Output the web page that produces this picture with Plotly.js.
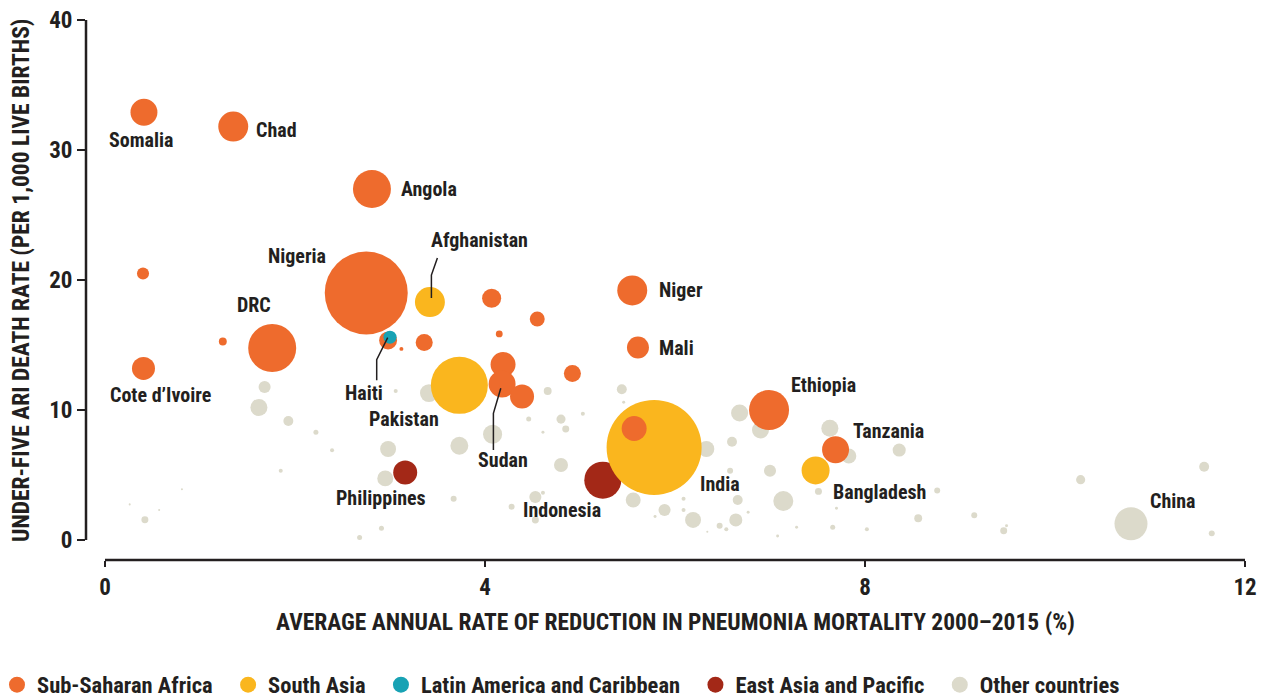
<!DOCTYPE html>
<html><head><meta charset="utf-8">
<script src="https://cdn.plot.ly/plotly-3.0.1.min.js"></script>
<style>html,body{margin:0;padding:0;background:#fff}#chart{width:1267px;height:698px}</style>
</head><body><div id="chart"></div>
<script>
// ---------- DATA ----------
// x: average annual rate of reduction in pneumonia mortality 2000-2015 (%)
// y: under-five ARI death rate (per 1,000 live births)
// deaths: under-five pneumonia deaths (thousands) -> bubble area

const ssaNames  = ["Somalia","Chad","Angola","Nigeria","","Cote d’Ivoire","","DRC","","","","","","","Niger","Mali","","Sudan","","","","Ethiopia","Tanzania"];
const ssaX      = [0.41,1.35,2.81,2.75,0.40,0.405,1.24,1.76,2.98,3.12,3.36,4.07,4.55,4.15,5.55,5.61,4.19,4.18,4.39,4.92,5.57,6.99,7.69];
const ssaY      = [32.9,31.8,27.0,19.0,20.5,13.2,15.27,14.77,15.35,14.7,15.2,18.6,17.0,15.85,19.2,14.8,13.5,12.0,11.04,12.8,8.58,10.0,6.95];
const ssaDeaths = [14.0,17.3,27.8,132.7,2.8,10.2,1.2,44.4,6.2,0.3,5.6,7.0,4.3,0.9,17.3,9.3,12.0,14.0,11.1,5.6,12.0,30.8,14.0];

const saNames  = ["Afghanistan","Pakistan","India","Bangladesh"];
const saX      = [3.42,3.73,5.78,7.48];
const saY      = [18.3,11.9,7.12,5.35];
const saDeaths = [17.3,62.6,174,15.1];

const lacNames  = ["Haiti"];
const lacX      = [3.0];
const lacY      = [15.6];
const lacDeaths = [3.3];

const eapNames  = ["Philippines","Indonesia"];
const eapX      = [3.16,5.24];
const eapY      = [5.2,4.6];
const eapDeaths = [11.1,26.4];

const othNames  = ["","","","","","","","","","","","","","","","","","","","","","","","","","","","","","","","","","","","","","","","","","","","","","","","","","","","","","","","","","","","","","","","","","","","China",""];
const othX      = [1.68,1.62,1.93,2.22,2.39,1.85,2.98,2.95,3.06,0.42,2.91,2.68,0.26,0.57,0.81,3.41,3.73,4.08,4.66,5.44,4.8,4.85,5.03,4.46,4.61,4.8,3.67,4.53,4.28,4.61,4.53,5.56,5.46,5.89,6.19,6.33,6.6,6.68,6.9,6.58,7.0,7.14,6.66,6.64,6.09,6.09,6.47,6.54,6.77,7.51,7.63,7.7,7.66,7.28,7.08,5.79,6.34,7.83,8.36,8.76,8.56,9.15,9.46,9.49,8.02,10.27,11.57,10.8,11.65];
const othY      = [11.77,10.2,9.15,8.28,6.9,5.33,7.0,4.74,11.46,1.56,0.9,0.2,2.74,2.3,3.9,11.3,7.25,8.13,11.46,11.6,9.3,8.54,9.72,9.31,8.28,5.77,3.18,3.31,2.56,3.64,1.54,3.08,10.6,2.31,1.54,7.0,7.56,9.77,8.46,5.33,5.33,3.0,3.08,1.54,3.18,2.3,1.1,0.82,2.13,3.74,8.6,2.44,0.98,0.98,0.3,1.8,0.64,6.46,6.92,3.8,1.67,1.9,0.72,1.1,0.82,4.64,5.64,1.25,0.51];
const othDeaths = [2.8,5.6,1.9,0.48,0.31,0.31,4.9,4.9,0.31,0.94,0.48,0.48,0.08,0.08,0.08,6.2,6.2,7.0,1.2,1.9,1.6,0.94,0.31,0.48,0.17,3.8,0.69,2.8,0.69,0.31,0.94,4.3,0.17,2.8,4.9,4.9,1.9,5.6,5.6,0.69,2.8,7.7,1.9,3.3,0.31,0.31,0.69,0.31,0.17,0.94,5.6,0.17,0.48,0.17,0.17,0.17,0.08,4.3,3.3,0.69,1.2,0.69,0.94,0.17,0.31,1.6,1.9,21.0,0.69];

const regionNames = ["Sub-Saharan Africa","South Asia","Latin America and Caribbean","East Asia and Pacific","Other countries"];
const xTicks = [0,4,8,12];
const yTicks = [0,10,20,30,40];
const xTitle = "AVERAGE ANNUAL RATE OF REDUCTION IN PNEUMONIA MORTALITY 2000–2015 (%)";
const yTitle = "UNDER-FIVE ARI DEATH RATE (PER 1,000 LIVE BIRTHS)";

// label placement (pixel offsets from the bubble centre)
const labelSpecs = [
  ["Somalia",-2,-28,"center"],["Chad",21,-3,"left"],["Angola",27,0,"left"],
  ["Nigeria",-69,37,"center"],["DRC",-18,43,"center"],["Cote d’Ivoire",17,-27,"center"],
  ["Haiti",-26,-56,"center"],["Pakistan",-55,-34,"center"],["Afghanistan",50,62,"center"],
  ["Sudan",1,-76,"center"],["Philippines",-24,-26,"center"],["Indonesia",-41,-30,"center"],
  ["India",66,-37,"center"],["Niger",25,0,"left"],["Mali",19,0,"left"],
  ["Ethiopia",54,25,"center"],["Tanzania",15,19,"left"],["Bangladesh",15,-22,"left"],
  ["China",17,23,"left"]
];
const leaderSpecs = {
  "Afghanistan": [[1.5,4],[1.5,27],[7.5,44]],
  "Haiti": [[-2.3,-0.5],[-13.3,-22.5],[-13.3,-43]],
  "Sudan": [[-1.3,-4.3],[-8.7,-29.3],[-8.7,-66]]
};

// ---------- STYLE ----------
const FONT = '"Roboto Condensed", "Open Sans", Roboto, sans-serif';
const INK = '#231f20';
const COLORS = {ssa:'#ee6b2d', sa:'#fab61e', lac:'#18a2b4', eap:'#a32817', oth:'#dcdacb'};
const SIZEREF = 2/51.9;

function bubble(x, y, s, names, color){
  return {type:'scatter', mode:'markers', x:x, y:y, text:names, showlegend:false, hoverinfo:'text',
    marker:{size:s, sizemode:'area', sizeref:SIZEREF, sizemin:1, color:color, opacity:1, line:{width:0}}};
}
const traces = [
  bubble(othX, othY, othDeaths, othNames, COLORS.oth),
  bubble(eapX, eapY, eapDeaths, eapNames, COLORS.eap),
  bubble(saX, saY, saDeaths, saNames, COLORS.sa),
  bubble(ssaX, ssaY, ssaDeaths, ssaNames, COLORS.ssa),
  bubble(lacX, lacY, lacDeaths, lacNames, COLORS.lac)
];
const legendColors = [COLORS.ssa, COLORS.sa, COLORS.lac, COLORS.eap, COLORS.oth];
regionNames.forEach((n,i)=>{
  traces.push({type:'scatter', mode:'markers', x:[null], y:[null],
    name: n + (i < regionNames.length-1 ? '\u00a0\u00a0' : ''), showlegend:true,
    marker:{size:16, color:legendColors[i]}});
});

// point lookup
const lookup = {};
[[ssaNames,ssaX,ssaY],[saNames,saX,saY],[lacNames,lacX,lacY],[eapNames,eapX,eapY],[othNames,othX,othY]].forEach(g=>{
  g[0].forEach((n,i)=>{ if(n) lookup[n] = [g[1][i], g[2][i]]; });
});

const annotations = labelSpecs.map(s=>{
  const p = lookup[s[0]];
  return {x:p[0], y:p[1], xref:'x', yref:'y', text:s[0], showarrow:false,
    xanchor:s[3], yanchor:'middle', xshift:s[1], yshift:s[2],
    font:{family:FONT, size:20, color:INK, weight:700}};
});
annotations.push({xref:'paper', yref:'paper', x:0.5086, y:-0.1148, xanchor:'center', yanchor:'middle',
  text:xTitle, showarrow:false, font:{family:FONT, size:23.5, color:INK, weight:700}});
annotations.push({xref:'paper', yref:'paper', x:-0.0561, y:0.5185, xanchor:'center', yanchor:'middle',
  text:yTitle, textangle:-90, showarrow:false, font:{family:FONT, size:23.5, color:INK, weight:700}});

const shapes = [
  {type:'line', xref:'x', yref:'paper', x0:0, x1:12, y0:0, y1:0, line:{color:INK, width:2.5}},
  {type:'line', xref:'paper', yref:'y', x0:0, x1:0, y0:0, y1:40, line:{color:INK, width:2.5}}
];
Object.keys(leaderSpecs).forEach(n=>{
  const p = lookup[n];
  const pts = leaderSpecs[n];
  const path = pts.map((q,i)=>(i?'L':'M')+q[0]+','+q[1]).join(' ');
  shapes.push({type:'path', xref:'x', yref:'y', xsizemode:'pixel', ysizemode:'pixel',
    xanchor:p[0], yanchor:p[1], path:path, line:{color:INK, width:1.5}});
});

const layout = {
  width:1267, height:698,
  margin:{l:86, r:22, t:20, b:138, autoexpand:false},
  paper_bgcolor:'#fff', plot_bgcolor:'#fff',
  font:{family:FONT, color:INK},
  showlegend:true,
  legend:{orientation:'h', x:-0.0768, xanchor:'left', y:-0.2315, yanchor:'middle',
    font:{family:FONT, size:22.5, color:INK, weight:700}, bgcolor:'rgba(0,0,0,0)', traceorder:'normal'},
  xaxis:{range:[-0.2,12], tickvals:xTicks, ticktext:xTicks.map(String), showgrid:false, zeroline:false, showline:false,
    ticks:'outside', ticklen:6, tickwidth:2, tickcolor:INK,
    tickfont:{family:FONT, size:23, color:INK, weight:700}},
  yaxis:{range:[40 - 540/13, 40], tickvals:yTicks, ticktext:yTicks.map(String), showgrid:false, zeroline:false, showline:false,
    ticks:'outside', ticklen:8, tickwidth:2, tickcolor:INK,
    tickfont:{family:FONT, size:23, color:INK, weight:700}},
  annotations:annotations,
  shapes:shapes
};

Plotly.newPlot('chart', traces, layout, {displayModeBar:false, staticPlot:true});
</script></body></html>
